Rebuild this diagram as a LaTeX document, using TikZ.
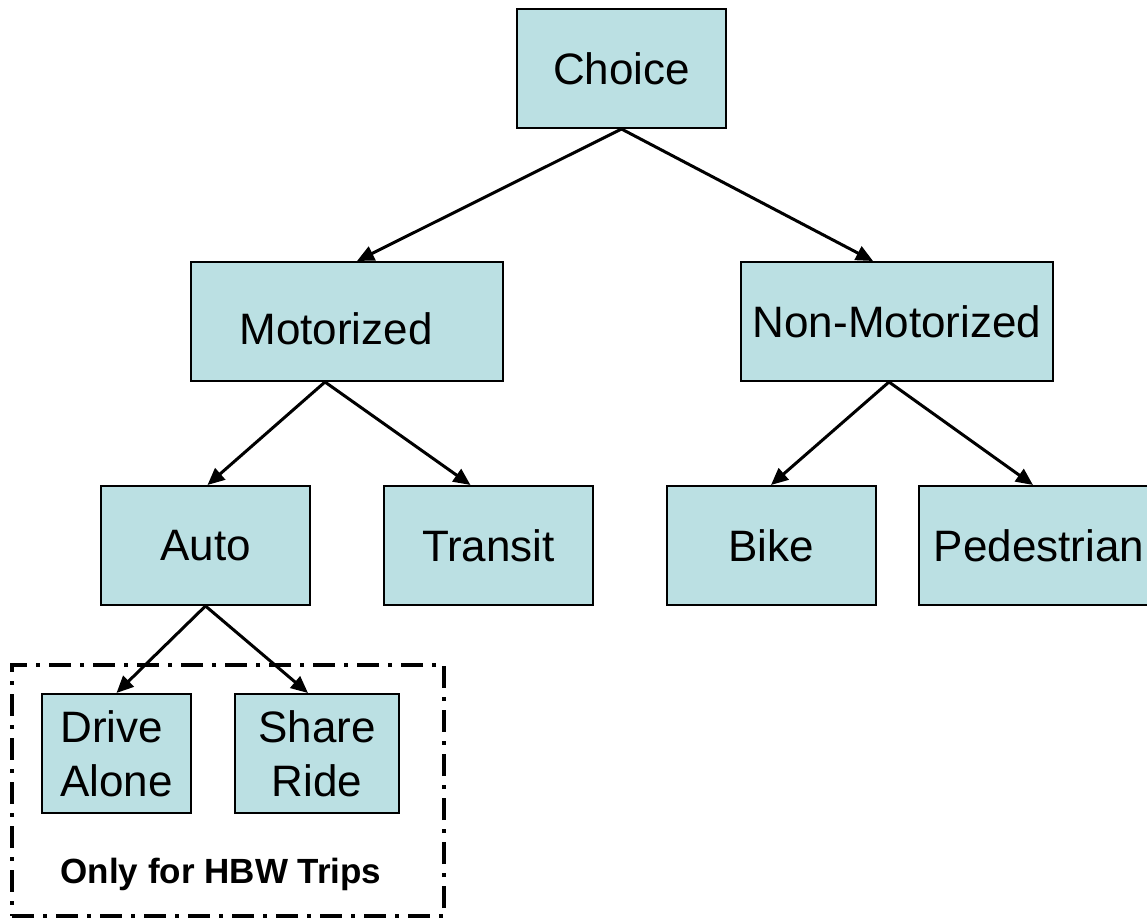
\documentclass[tikz,border=0pt]{standalone}
\usepackage{fontspec}
\setmainfont{Liberation Sans}
\usetikzlibrary{arrows.meta,calc,positioning}
\definecolor{boxFill}{RGB}{187,224,227}

\begin{document}
\begin{tikzpicture}[x=0.5pt, y=-0.5pt,
    every node/.style={font=\fontsize{22}{27}\selectfont},
    mode/.style={draw, line width=1pt, fill=boxFill, minimum height=59.5pt, inner sep=0pt},
    link/.style={line width=1.5pt, -{Triangle[length=8.5pt,width=7.5pt]}},
    hbwbox/.style={draw, line width=2pt, dash pattern=on 11pt off 4.5pt on 2pt off 4.5pt}]
  \useasboundingbox (0,0) rectangle (1147,919);
  % levels of the tree
  \node[mode, minimum width=104.5pt] (choice) at (621.5,68.5) {Choice};
  \node[mode, minimum width=156pt, text height=23pt, text depth=0pt] (motor) at (347,321.5) {Motorized\hspace*{11pt}};
  \node[mode, minimum width=156pt] (nonmotor) at (897,321.5) {Non-Motorized};
  \node[mode, minimum width=104.5pt] (auto) at (205.5,545.5) {Auto};
  \node[mode, minimum width=104.5pt] (transit) at (488.5,545.5) {Transit};
  \node[mode, minimum width=104.5pt] (bike) at (771,545.5) {Bike};
  \node[mode, minimum width=120pt] (ped) at (1039,545.5) {Pedestrian};
  % auto sub-modes
  \node[hbwbox, minimum width=216pt, minimum height=125.5pt, inner sep=0pt] (hbw) at (228,790.5) {};
  \node[mode, minimum width=74.5pt, align=left] (alone) at (116.5,753.5) {Drive\\Alone};
  \node[mode, minimum width=82pt, align=center] (share) at (317,753.5) {Share\\Ride};
  \node[font=\fontsize{17.5}{21}\selectfont\bfseries] (hbwlabel) at (221,874) {Only for HBW Trips};
  % arrows
  \draw[link] (choice.south) -- ([xshift=5pt]motor.north);
  \draw[link] (choice.south) -- ([xshift=-12pt]nonmotor.north);
  \draw[link] ([xshift=-11pt]motor.south) -- ([xshift=1pt]auto.north);
  \draw[link] ([xshift=-11pt]motor.south) -- ([xshift=-9pt]transit.north);
  \draw[link] ([xshift=-4pt]nonmotor.south) -- (bike.north);
  \draw[link] ([xshift=-4pt]nonmotor.south) -- ([xshift=-3pt]ped.north);
  \draw[link] (auto.south) -- (alone.north);
  \draw[link] (auto.south) -- ([xshift=-4.5pt]share.north);
\end{tikzpicture}
\end{document}
